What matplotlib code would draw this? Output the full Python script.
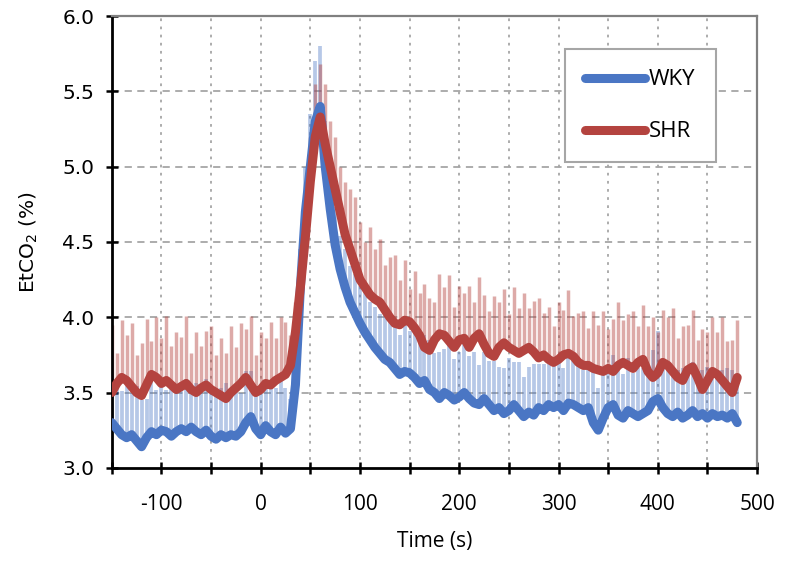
import numpy as np
import matplotlib
matplotlib.use("Agg")
import matplotlib.pyplot as plt

# EtCO2 time course, sampled every 5 s from -150 s to 480 s
time = np.arange(-150, 481, 5)

wky_mean = [
    3.30, 3.26, 3.22, 3.20, 3.22, 3.18, 3.14, 3.20, 3.24, 3.22,
    3.25, 3.24, 3.21, 3.24, 3.26, 3.24, 3.27, 3.24, 3.22, 3.25,
    3.21, 3.19, 3.22, 3.20, 3.22, 3.21, 3.24, 3.30, 3.34, 3.26,
    3.22, 3.28, 3.24, 3.22, 3.27, 3.23,
    3.26, 3.55, 4.20, 4.70, 5.00, 5.30, 5.40,
    5.00, 4.72, 4.48, 4.32, 4.20, 4.10, 4.03, 3.96, 3.90, 3.85,
    3.80, 3.76, 3.72, 3.70,
    3.66, 3.62, 3.64, 3.63, 3.60, 3.56, 3.58, 3.52, 3.50, 3.46,
    3.50, 3.48, 3.45, 3.47, 3.50, 3.46, 3.43, 3.42, 3.46, 3.42,
    3.38, 3.40, 3.36, 3.38, 3.42, 3.38, 3.34, 3.37, 3.35, 3.40,
    3.38, 3.42, 3.40, 3.42, 3.38, 3.43, 3.42, 3.40, 3.38, 3.40,
    3.30, 3.25, 3.33, 3.40, 3.42, 3.35, 3.33, 3.38, 3.36, 3.34,
    3.36, 3.38, 3.44, 3.46, 3.40, 3.36, 3.34, 3.37, 3.33, 3.35,
    3.38, 3.34, 3.36, 3.33, 3.36, 3.34, 3.35, 3.33, 3.36, 3.30,
]

shr_mean = [
    3.50, 3.56, 3.60, 3.58, 3.54, 3.50, 3.48, 3.55, 3.62, 3.60,
    3.56, 3.58, 3.55, 3.52, 3.54, 3.56, 3.52, 3.50, 3.53, 3.55,
    3.52, 3.50, 3.48, 3.46, 3.50, 3.53, 3.56, 3.60, 3.55, 3.50,
    3.52, 3.56, 3.55, 3.58, 3.60, 3.62,
    3.68, 3.90, 4.20, 4.53, 4.90, 5.20, 5.33,
    5.15, 5.00, 4.85, 4.70, 4.55, 4.45, 4.35, 4.25, 4.20, 4.15,
    4.12, 4.10, 4.05, 4.00,
    3.96, 3.95, 3.98, 3.97, 3.93, 3.88, 3.80, 3.78, 3.85, 3.89,
    3.88, 3.84, 3.80, 3.85, 3.86, 3.80, 3.86, 3.89, 3.82, 3.76,
    3.74, 3.80, 3.83, 3.80, 3.78, 3.76, 3.78, 3.80, 3.77, 3.73,
    3.75, 3.72, 3.70, 3.72, 3.75, 3.76, 3.74, 3.70, 3.68, 3.68,
    3.66, 3.65, 3.64, 3.66, 3.64, 3.68, 3.70, 3.68, 3.66, 3.70,
    3.72, 3.64, 3.60, 3.63, 3.70, 3.68, 3.64, 3.60, 3.58, 3.65,
    3.67, 3.60, 3.52, 3.58, 3.64, 3.62, 3.58, 3.54, 3.50, 3.60,
]

wky_err = [
    0.26, 0.32, 0.29, 0.34, 0.28, 0.36, 0.31, 0.26, 0.34, 0.30,
    0.32, 0.28, 0.34, 0.29, 0.31, 0.35, 0.27, 0.32, 0.30, 0.34,
    0.28, 0.33, 0.31, 0.36, 0.29, 0.32, 0.26, 0.34, 0.30, 0.28,
    0.32, 0.29, 0.34, 0.31, 0.33, 0.30,
    0.20, 0.25, 0.25, 0.30, 0.35, 0.40, 0.40,
    0.30, 0.28, 0.25, 0.22, 0.25, 0.24, 0.26, 0.25, 0.28, 0.25,
    0.27, 0.26, 0.30, 0.28,
    0.30, 0.26, 0.32, 0.28, 0.34, 0.27, 0.30, 0.33, 0.26, 0.31,
    0.29, 0.35, 0.27, 0.30, 0.32, 0.28, 0.34, 0.26, 0.31, 0.29,
    0.33, 0.27, 0.30, 0.35, 0.28, 0.32, 0.26, 0.30, 0.34, 0.29,
    0.31, 0.27, 0.33, 0.30, 0.28, 0.35, 0.29, 0.32, 0.27, 0.30,
    0.34, 0.28, 0.31, 0.26, 0.33, 0.30, 0.29, 0.35, 0.27, 0.32,
    0.30, 0.28, 0.34, 0.45, 0.31, 0.30, 0.30, 0.28, 0.33, 0.27,
    0.32, 0.30, 0.29, 0.34, 0.28, 0.31, 0.30, 0.33, 0.29, 0.32,
]

shr_err = [
    0.45, 0.20, 0.38, 0.30, 0.42, 0.25, 0.35, 0.44, 0.22, 0.40,
    0.30, 0.43, 0.26, 0.38, 0.33, 0.45, 0.24, 0.40, 0.28, 0.36,
    0.42, 0.25, 0.38, 0.30, 0.44, 0.27, 0.40, 0.32, 0.46, 0.25,
    0.38, 0.30, 0.42, 0.28, 0.40, 0.35,
    0.20, 0.20, 0.25, 0.25, 0.30, 0.35, 0.35,
    0.40, 0.30, 0.35, 0.30, 0.35, 0.40, 0.45, 0.38, 0.30, 0.45,
    0.33, 0.42, 0.30, 0.40,
    0.45, 0.30, 0.40, 0.22, 0.38, 0.28, 0.42, 0.35, 0.25, 0.40,
    0.32, 0.44, 0.27, 0.36, 0.30, 0.41, 0.24, 0.38, 0.33, 0.28,
    0.40, 0.30, 0.36, 0.22, 0.42, 0.30, 0.38, 0.26, 0.34, 0.40,
    0.28, 0.35, 0.24, 0.38, 0.30, 0.42, 0.27, 0.33, 0.36, 0.25,
    0.38, 0.30, 0.40, 0.26, 0.35, 0.42, 0.28, 0.34, 0.38, 0.24,
    0.36, 0.30, 0.40, 0.27, 0.35, 0.32, 0.42, 0.26, 0.36, 0.30,
    0.38, 0.25, 0.40, 0.32, 0.36, 0.28, 0.42, 0.30, 0.35, 0.38,
]

x_ticks = list(range(-150, 501, 50))
x_labels = [str(t) if t % 100 == 0 else "" for t in x_ticks]
y_ticks = [3.0, 3.5, 4.0, 4.5, 5.0, 5.5, 6.0]

blue = "#4a76c4"
red = "#b4433f"

wky_mean = np.array(wky_mean)
shr_mean = np.array(shr_mean)

fig = plt.figure(figsize=(7.87, 5.74), dpi=100)
ax = fig.add_axes([0.142, 0.185, 0.820, 0.787])

# error bars (upper only), then the mean lines on top
ax.vlines(time, wky_mean, wky_mean + np.array(wky_err), color=blue, alpha=0.4, lw=2.7, zorder=2)
ax.vlines(time, shr_mean, shr_mean + np.array(shr_err), color=red, alpha=0.45, lw=2.5, zorder=2)
ax.plot(time, wky_mean, color=blue, lw=6.5, solid_capstyle="round", solid_joinstyle="round", label="WKY", zorder=3)
ax.plot(time, shr_mean, color=red, lw=6.5, solid_capstyle="round", solid_joinstyle="round", label="SHR", zorder=4)

ax.set_xlim(-150, 500)
ax.set_ylim(3.0, 6.0)
ax.set_xticks(x_ticks)
ax.set_xticklabels(x_labels, fontfamily="Open Sans", fontsize=15)
ax.set_yticks(y_ticks)
ax.set_yticklabels([f"{v:.1f}" for v in y_ticks], fontfamily="DejaVu Sans", fontsize=14.5)

# Excel-like grid: dashed horizontals, dotted verticals
for v in y_ticks[1:-1]:
    ax.axhline(v, color="#a6a6a6", lw=1.3, ls=(0, (4, 3)), zorder=1)
for t in x_ticks[1:-1]:
    ax.axvline(t, color="#a6a6a6", lw=1.3, ls=(0, (1.5, 3)), zorder=1)

ax.tick_params(direction="inout", length=9, width=1.8, color="black")
ax.tick_params(axis="x", pad=14)
ax.tick_params(axis="y", pad=8)
for side in ["left", "bottom"]:
    ax.spines[side].set_linewidth(2)
    ax.spines[side].set_color("black")
for side in ["top", "right"]:
    ax.spines[side].set_linewidth(1.6)
    ax.spines[side].set_color("#808080")

ax.set_xlabel("Time (s)", fontfamily="Open Sans", fontsize=15, labelpad=12)
ax.set_ylabel("EtCO$_2$ (%)", fontfamily="DejaVu Sans", fontsize=14.5, labelpad=16)

leg = ax.legend(loc="upper right", bbox_to_anchor=(0.953, 0.951), fancybox=False,
                framealpha=1, edgecolor="#a6a6a6", handlelength=2.7, labelspacing=1.4,
                handletextpad=0.2, borderpad=0.9, prop={"family": "Open Sans", "size": 16})
leg.get_frame().set_linewidth(1.5)

fig.savefig("out.png", dpi=100)
